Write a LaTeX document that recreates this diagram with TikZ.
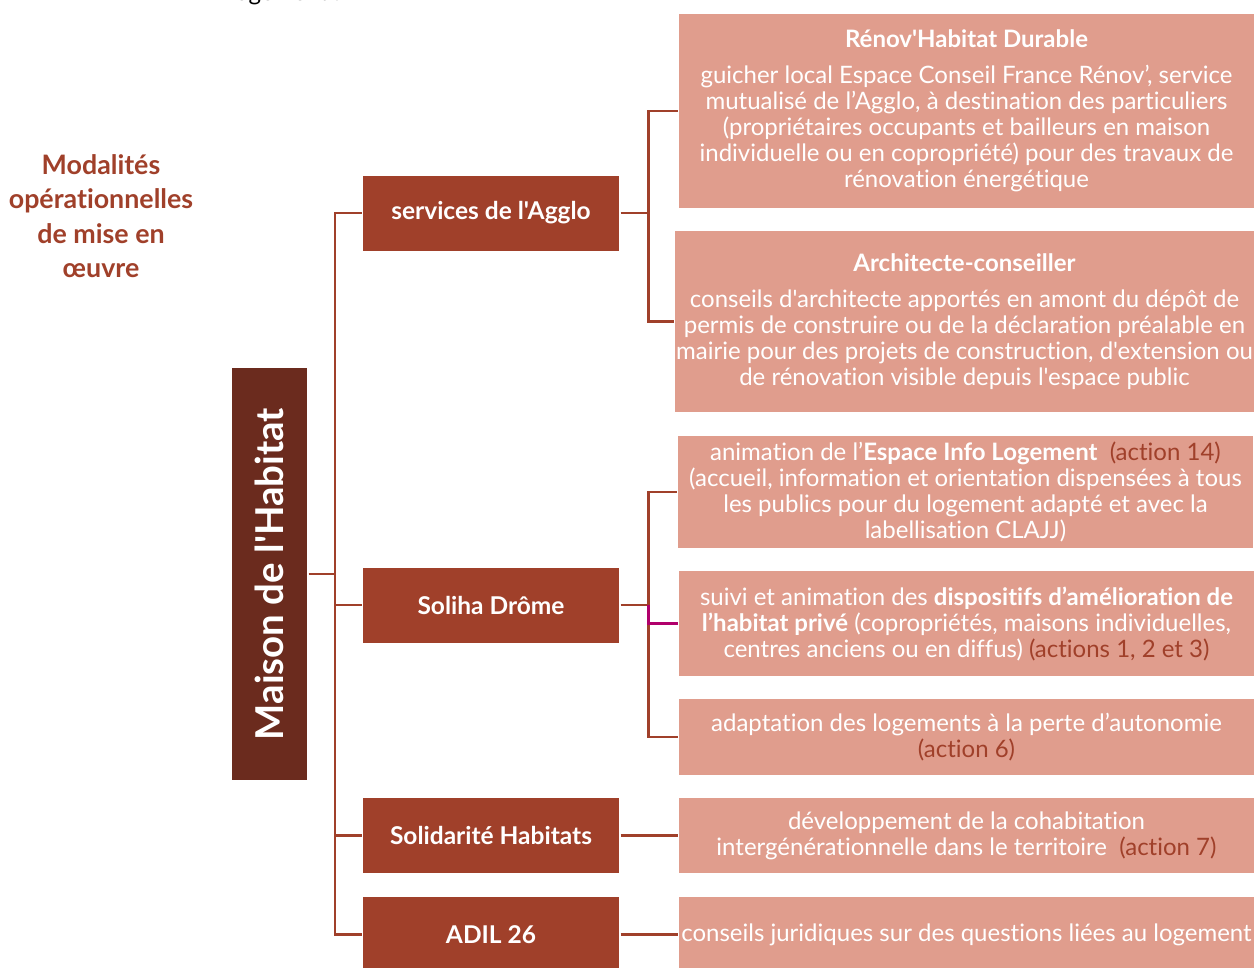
\documentclass[tikz,border=0pt]{standalone}
\usepackage{fontspec}
\setmainfont{Lato}[Ligatures={TeXOff,NoCommon}]
\definecolor{maisoncol}{HTML}{6B2B1E}
\definecolor{rust}{HTML}{A0402A}
\definecolor{salmon}{HTML}{E09D8D}
\definecolor{magentaline}{HTML}{B0006B}

\begin{document}
\begin{tikzpicture}[x=1pt,y=-1pt,
   every node/.style={inner sep=0pt,outer sep=1.5pt},
   maison/.style={fill=maisoncol,text=white,minimum width=75pt,minimum height=412pt,
                  font=\fontsize{38.4}{44}\bfseries\selectfont},
   agence/.style={fill=rust,text=white,minimum width=256pt,minimum height=75pt,
                  font=\fontsize{24.5}{28}\bfseries\selectfont},
   detail/.style={fill=salmon,text=white,minimum width=575pt,align=center,
                  font=\fontsize{24}{26}\selectfont},
   link/.style={draw=rust,line width=2.8pt}]

\useasboundingbox (0,0) rectangle (1256,967);

\node[anchor=base west,font=\fontsize{24}{26}\selectfont] (haut) at (228,0) {logement :};

\node[text=rust,align=center,font=\fontsize{26.8}{34.5}\bfseries\selectfont] (titre) at (101,216)
    {Modalités\\opérationnelles\\de mise en\\œuvre};

\node[maison] (maison) at (269.5,574) {\rotatebox{90}{Maison de l'Habitat}};

\node[agence] (services) at (491,213) {services de l'Agglo};
\node[agence] (soliha) at (491,605) {Soliha Drôme};
\node[agence] (solidarite) at (491,835.5) {Solidarité Habitats};
\node[agence] (adil) at (491,934.5) {ADIL 26};

\node[detail,minimum height=194pt] (renov) at (966.5,111)
    {{\bfseries Rénov'Habitat Durable}\\[10pt]
     guicher local Espace Conseil France Rénov’, service\\
     mutualisé de l’Agglo, à destination des particuliers\\
     (propriétaires occupants et bailleurs en maison\\
     individuelle ou en copropriété) pour des travaux de\\
     rénovation énergétique};
\node[detail,minimum width=579pt,minimum height=181pt] (archi) at (964.5,321.5)
    {{\bfseries Architecte-conseiller}\\[10pt]
     conseils d'architecte apportés en amont du dépôt de\\
     permis de construire ou de la déclaration préalable en\\
     mairie pour des projets de construction, d'extension ou\\
     de rénovation visible depuis l'espace public};
\node[detail,minimum height=112pt] (eil) at (965.5,492)
    {animation de l’{\bfseries Espace Info Logement}~ \textcolor{rust}{(action 14)}\\
     (accueil, information et orientation dispensées à tous\\
     les publics pour du logement adapté et avec la\\
     labellisation CLAJJ)};
\node[detail,minimum height=105pt] (dispo) at (966.5,623.5)
    {suivi et animation des {\bfseries dispositifs d’amélioration de}\\
     {\bfseries l’habitat privé} (copropriétés, maisons individuelles,\\
     centres anciens ou en diffus) \textcolor{rust}{(actions 1, 2 et 3)}};
\node[detail,minimum height=76pt] (adapt) at (966.5,737)
    {adaptation des logements à la perte d’autonomie\\
     \textcolor{rust}{(action 6)}};
\node[detail,minimum height=75pt] (cohab) at (966.5,835.5)
    {développement de la cohabitation\\
     intergénérationnelle dans le territoire~ \textcolor{rust}{(action 7)}};
\node[detail,minimum height=75pt] (juridique) at (966.5,934.5)
    {conseils juridiques sur des questions liées au logement};

\draw[link] (maison.east) -- ++(26.5,0) coordinate (mfork);
\foreach \n in {services,soliha,solidarite,adil}
    \draw[link] (mfork) |- (\n.west);

\draw[link] (services.east) -- ++(28,0) coordinate (afork);
\draw[link] (afork) |- (renov.west);
\draw[link] (afork) |- (archi.west);

\draw[link] (soliha.east) -- ++(28,0) coordinate (sfork);
\draw[link] (sfork) |- (eil.west);
\draw[link] (sfork) |- (adapt.west);
\draw[link,draw=magentaline] (sfork) |- (dispo.west);

\draw[link] (solidarite) -- (cohab);
\draw[link] (adil) -- (juridique);

\end{tikzpicture}
\end{document}
